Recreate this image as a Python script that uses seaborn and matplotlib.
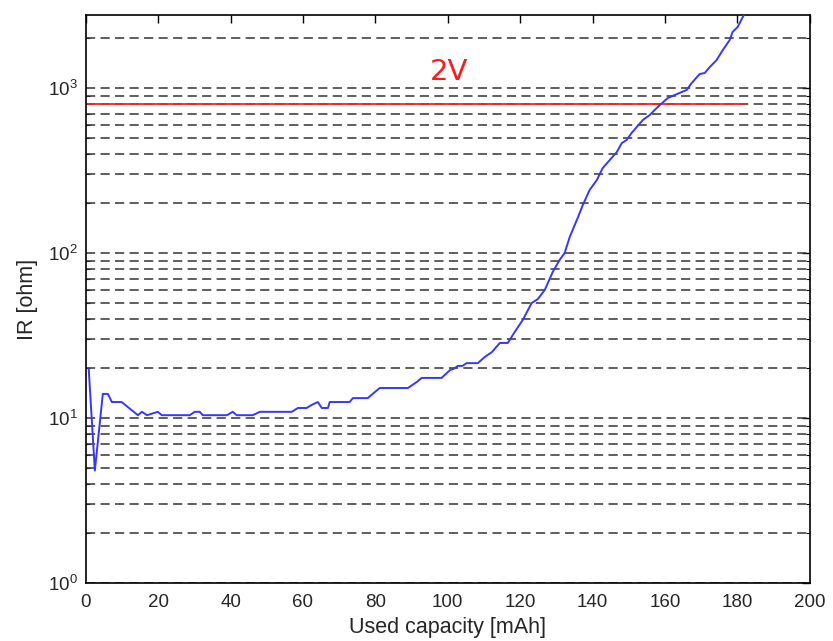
import numpy as np
import pandas as pd
import matplotlib
matplotlib.use("Agg")
import matplotlib.pyplot as plt
import matplotlib.ticker as mticker
import seaborn as sns

# Data
capacity = [0.8, 2.5, 4.7, 6.1, 7.2, 9.9, 14.4, 15.5, 16.9, 19.9, 21.0, 28.7, 30.1, 31.5,
            32.3, 39.0, 40.6, 41.7, 46.1, 48.1, 56.9, 58.6, 61.0, 62.4, 64.1, 65.2, 66.9,
            67.4, 72.9, 73.8, 77.9, 79.6, 81.2, 89.0, 91.4, 92.8, 98.3, 100.6, 101.9, 102.8,
            104.1, 105.2, 108.3, 110.2, 112.2, 114.4, 116.6, 118.5, 120.7, 123.2, 124.9,
            126.8, 129.0, 130.9, 132.3, 133.7, 135.9, 137.3, 139.2, 141.2, 142.8, 146.7,
            148.1, 149.4, 150.8, 152.2, 153.9, 155.8, 158.0, 160.8, 162.7, 166.0, 167.4,
            169.6, 171.0, 172.4, 174.3, 176.0, 177.9, 178.7, 180.1, 181.8]
ir_ohm = [20.0, 4.8, 14.0, 14.0, 12.5, 12.5, 10.4, 10.9, 10.4, 10.9, 10.4, 10.4, 10.9, 10.9,
          10.4, 10.4, 10.9, 10.4, 10.4, 10.9, 10.9, 11.5, 11.5, 12.0, 12.5, 11.5, 11.5,
          12.5, 12.5, 13.2, 13.2, 14.2, 15.2, 15.2, 16.5, 17.5, 17.5, 19.5, 20.0, 20.7,
          20.7, 21.5, 21.5, 23.4, 25.1, 28.5, 28.5, 33.2, 39.2, 49.8, 52.6,
          59.7, 76.7, 90.7, 100, 125, 163, 195, 241, 277, 327, 409,
          464, 484, 534, 580, 640, 686, 767, 870, 907, 973, 1072,
          1216, 1233, 1340, 1479, 1700, 1954, 2185, 2343, 2769]
limit_x = [0, 181.8]
limit_y = [800, 800]
limit_label = "2V"

sns.set_theme(style="white")
plt.rcParams['font.family'] = ['Liberation Sans', 'DejaVu Sans']
plt.rcParams['mathtext.fontset'] = 'custom'
plt.rcParams['mathtext.rm'] = 'Liberation Sans'

df = pd.DataFrame({"capacity": capacity, "ir": ir_ohm})

fig = plt.figure(figsize=(8.33, 6.41), dpi=100)
ax = fig.add_axes([0.103, 0.0905, 0.869, 0.886])

ax.set_yscale("log")
ax.set_xlim(0, 200)
ax.set_ylim(1, max(ir_ohm))

# dashed grid at every major/minor y tick
for dec in [1, 10, 100, 1000]:
    for m in range(1, 10):
        v = dec * m
        if v < max(ir_ohm):
            ax.axhline(v, color="#333333", lw=1.1, dashes=(6, 3.5), zorder=1)

sns.lineplot(data=df, x="capacity", y="ir", ax=ax, color="#3636ff", lw=1.4,
             sort=False, estimator=None, zorder=3)
ax.plot(limit_x, limit_y, color="#ff2020", lw=1.3, zorder=2)
ax.text(95, 1250, limit_label, color="#ff1a1a", fontsize=21, va="center", ha="left",
        family=["DejaVu Sans"])

ax.set_xticks(np.arange(0, 201, 20))
ax.yaxis.set_major_locator(mticker.LogLocator(base=10, numticks=10))
ax.yaxis.set_minor_locator(mticker.LogLocator(base=10, subs=np.arange(2, 10), numticks=20))
ax.yaxis.set_minor_formatter(mticker.NullFormatter())
ax.tick_params(axis="both", which="major", direction="in", length=6, width=1,
               labelsize=13.5, top=True, right=True, color="black")
ax.tick_params(axis="x", which="major", pad=8)
ax.tick_params(axis="y", which="major", pad=6)
ax.tick_params(axis="y", which="minor", direction="in", length=3, width=0.8,
               left=True, right=True, color="black")
for s in ax.spines.values():
    s.set_color("black")
    s.set_linewidth(1.2)

ax.set_xlabel("Used capacity [mAh]", fontsize=15.5, labelpad=4)
ax.set_ylabel("IR [ohm]", fontsize=15.5, labelpad=7)

fig.savefig("out.png", dpi=100)
